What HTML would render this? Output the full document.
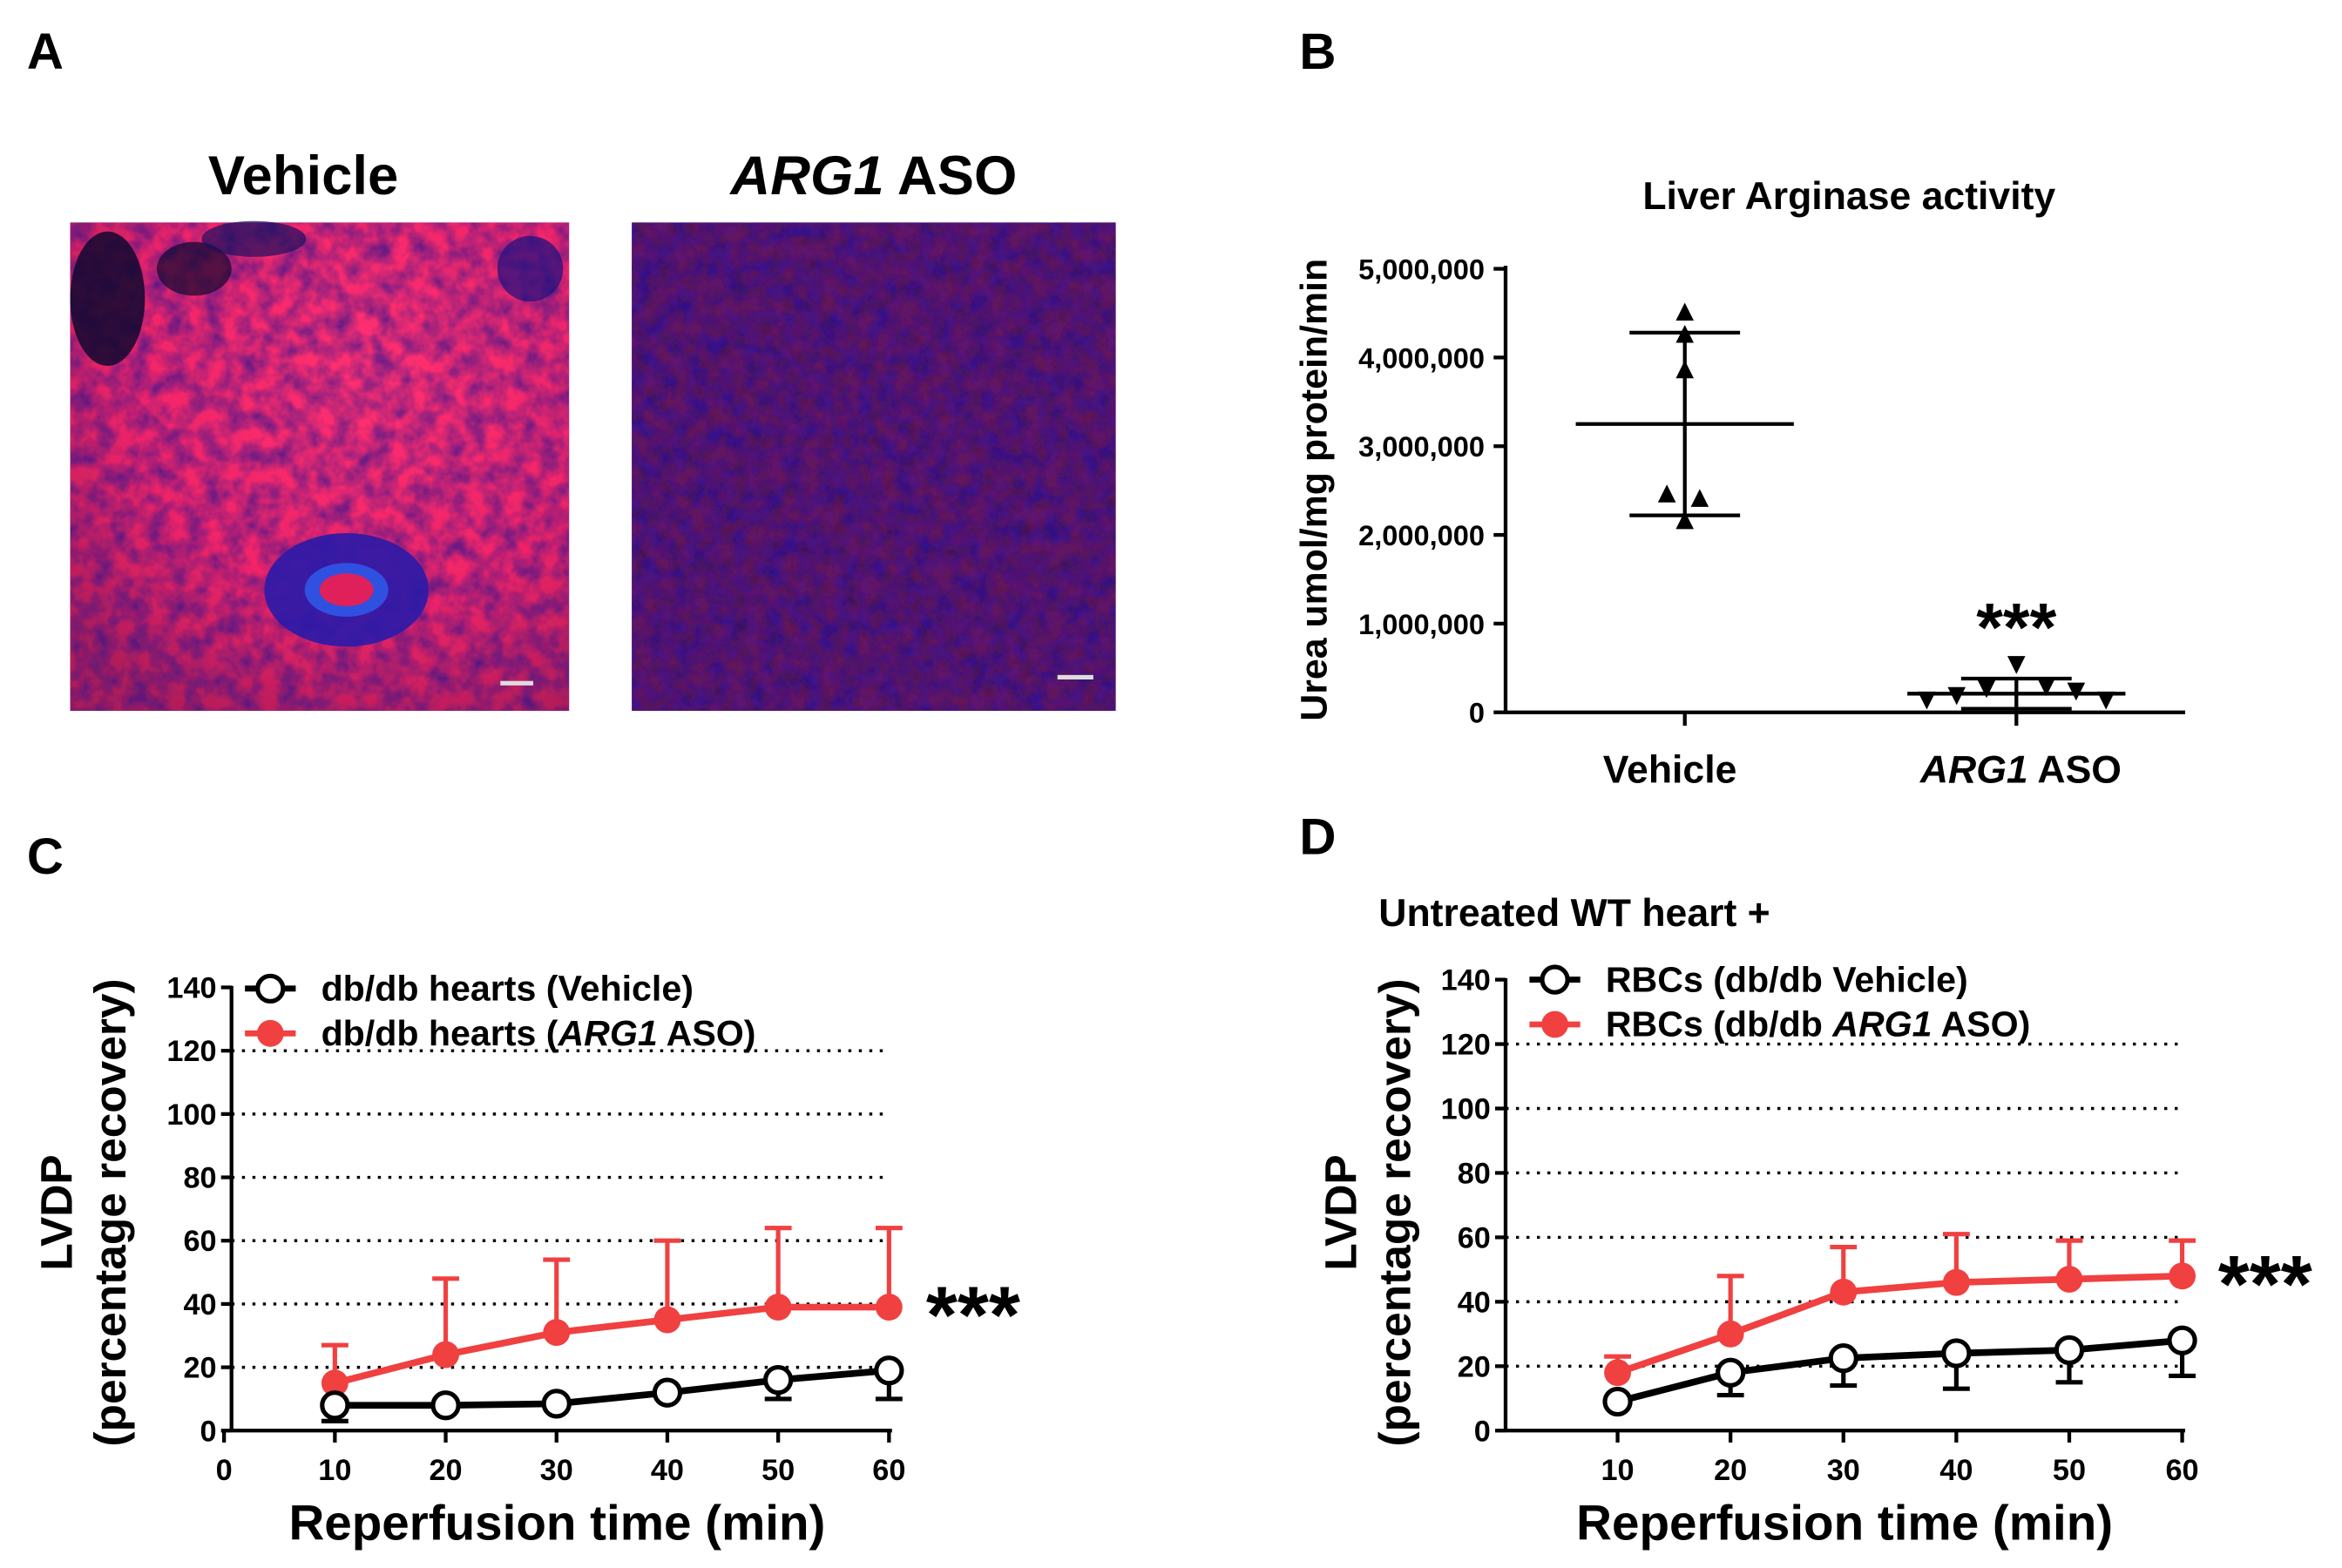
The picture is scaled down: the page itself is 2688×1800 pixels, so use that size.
<!DOCTYPE html>
<html><head><meta charset="utf-8"><style>
html,body{margin:0;padding:0;background:#fff}
svg{display:block;font-family:"Liberation Sans",Arial,sans-serif;font-weight:bold}
</style></head><body>
<svg id="fig" width="2688" height="1800" viewBox="0 0 1568 1050" xmlns="http://www.w3.org/2000/svg">
<defs>
<filter id="noiseR" x="0" y="0" width="100%" height="100%">
<feTurbulence type="fractalNoise" baseFrequency="0.08" numOctaves="3" seed="3" result="n"/>
<feColorMatrix in="n" type="matrix" values="0 0 0 0 0  0 0 0 0 0  0 0 0 0 0  0 0 0 -1.2 1.35" result="a"/>
<feComposite in="SourceGraphic" in2="a" operator="in"/>
</filter>
<filter id="noiseB" x="0" y="0" width="100%" height="100%">
<feTurbulence type="fractalNoise" baseFrequency="0.12" numOctaves="3" seed="9" result="n"/>
<feColorMatrix in="n" type="matrix" values="0 0 0 0 0  0 0 0 0 0  0 0 0 0 0  0 0 0 -2 1.3" result="a"/>
<feComposite in="SourceGraphic" in2="a" operator="in"/>
</filter>
<radialGradient id="vg" cx="0.6" cy="0.3" r="0.8"><stop offset="0" stop-color="#ff3070"/><stop offset="0.6" stop-color="#f02468"/><stop offset="1" stop-color="#b01c58"/></radialGradient>
</defs>
<g font-size="34">
<text x="18" y="46">A</text><text x="870" y="46">B</text><text x="18" y="585">C</text><text x="870" y="572">D</text>
</g>
<!-- Panel A -->
<g>
<text x="203" y="130" font-size="37" text-anchor="middle">Vehicle</text>
<text x="585" y="130" font-size="37" text-anchor="middle"><tspan font-style="italic">ARG1</tspan> ASO</text>
<g>
<rect x="47" y="149" width="334" height="327" fill="#2a1490"/>
<rect x="47" y="149" width="334" height="327" fill="url(#vg)" filter="url(#noiseR)"/>
<ellipse cx="232" cy="395" rx="55" ry="38" fill="#2a1aa8" opacity="0.9"/>
<ellipse cx="232" cy="395" rx="28" ry="18" fill="#3050e0"/>
<ellipse cx="232" cy="395" rx="18" ry="11" fill="#e0205a"/>
<ellipse cx="72" cy="200" rx="25" ry="45" fill="#100830" opacity="0.85"/>
<ellipse cx="130" cy="180" rx="25" ry="18" fill="#100830" opacity="0.7"/>
<ellipse cx="170" cy="160" rx="35" ry="12" fill="#1a1060" opacity="0.7"/>
<ellipse cx="355" cy="180" rx="22" ry="22" fill="#1a1080" opacity="0.7"/>
<rect x="335" y="456" width="22" height="3" fill="#ddd"/>
</g>
<g>
<rect x="423" y="149" width="324" height="327" fill="#1a10a0"/>
<rect x="423" y="149" width="324" height="327" fill="#2a1060" filter="url(#noiseB)"/>
<rect x="423" y="149" width="324" height="327" fill="#a01a40" opacity="0.5" filter="url(#noiseR)"/>
<rect x="708" y="452" width="24" height="3" fill="#ddd"/>
</g>
</g>
<g id="pb"></g>
<g id="pc"></g>
<g id="pd"></g>
</svg>
<script>
// Panel B data
const bCategories = ["Vehicle", "ARG1 ASO"];
const bVehiclePoints = [4500000, 4250000, 3850000, 2450000, 2400000, 2150000];
const bAsoPoints = [550000, 300000, 280000, 250000, 200000, 150000, 150000];
const bMeans = [3250000, 210000];
const bSD = [1030000, 170000];
const bTicks = [0, 1000000, 2000000, 3000000, 4000000, 5000000];
// Panel C data
const cX = [10, 20, 30, 40, 50, 60];
const cVehicle = [8, 8, 8.5, 12, 16, 19];
const cVehicleErr = [5, 0, 0, 0, 6, 9];
const cAso = [15, 24, 31, 35, 39, 39];
const cAsoErr = [12, 24, 23, 25, 25, 25];
const cXTicks = [0, 10, 20, 30, 40, 50, 60];
const yTicks = [0, 20, 40, 60, 80, 100, 120, 140];
// Panel D data
const dX = [10, 20, 30, 40, 50, 60];
const dVehicle = [9, 18, 22.5, 24, 25, 28];
const dVehicleErr = [0, 7, 8.5, 11, 10, 11];
const dAso = [18, 30, 43, 46, 47, 48];
const dAsoErr = [5, 18, 14, 15, 12, 11];
const dXTicks = [10, 20, 30, 40, 50, 60];

const NS = "http://www.w3.org/2000/svg";
function mk(parent, tag, attrs, text) {
  const e = document.createElementNS(NS, tag);
  for (const k in attrs) e.setAttribute(k, attrs[k]);
  if (text !== undefined) e.textContent = text;
  parent.appendChild(e);
  return e;
}
// ---------- Panel B
(function(){
  const g = document.getElementById('pb');
  const y = v => 477 - v / 5000000 * 297;
  const xs = [1128, 1350];
  let t = mk(g,'text',{x:1238,y:140,'font-size':26,'text-anchor':'middle'},'Liver Arginase activity');
   
  t = mk(g,'text',{x:0,y:0,'font-size':25,'text-anchor':'middle',transform:'translate(888,328) rotate(-90)'},'Urea umol/mg protein/min');
   
  let ax = mk(g,'line',{x1:1008,y1:178,x2:1008,y2:478,stroke:'#000','stroke-width':2.5});
   
  ax = mk(g,'line',{x1:1008,y1:477,x2:1463,y2:477,stroke:'#000','stroke-width':2.5});
   
  bTicks.forEach(v=>{
    const l = mk(g,'line',{x1:1000,y1:y(v),x2:1008,y2:y(v),stroke:'#000','stroke-width':2.5});
     
    const tx = mk(g,'text',{x:994,y:y(v)+7,'font-size':19,'text-anchor':'end'},v.toLocaleString('en-US'));
     
  });
  const labX=[1118,1353];
  xs.forEach((x,i)=>{
    const l = mk(g,'line',{x1:x,y1:477,x2:x,y2:486,stroke:'#000','stroke-width':2.5});
     
    const tx = mk(g,'text',{x:labX[i],y:524,'font-size':26,'text-anchor':'middle'});
    if(i===1){ mk(tx,'tspan',{'font-style':'italic'},'ARG1'); mk(tx,'tspan',{},' ASO'); } else tx.textContent=bCategories[i];
     
    const m=bMeans[i], s=bSD[i];
    let e = mk(g,'line',{x1:x-73,y1:y(m),x2:x+73,y2:y(m),stroke:'#000','stroke-width':2.5});
     
    e = mk(g,'line',{x1:x,y1:y(m+s),x2:x,y2:y(m-s),stroke:'#000','stroke-width':2.5});
     
    [m+s,m-s].forEach(v=>{ const c=mk(g,'line',{x1:x-37,y1:y(v),x2:x+37,y2:y(v),stroke:'#000','stroke-width':2.5});
       });
  });
  const offsV=[0,0,0,-12,10,0];
  bVehiclePoints.forEach((v,i)=>{
    const x=xs[0]+offsV[i], yy=y(v);
    const p=mk(g,'polygon',{points:`${x},${yy-7} ${x-6},${yy+5} ${x+6},${yy+5}`,fill:'#000'});
     
  });
  const offsA=[0,20,-20,40,-40,60,-60];
  bAsoPoints.forEach((v,i)=>{
    const x=xs[1]+offsA[i], yy=y(v);
    const p=mk(g,'polygon',{points:`${x-6},${yy-5} ${x+6},${yy-5} ${x},${yy+7}`,fill:'#000'});
     
  });
  t = mk(g,'text',{x:1350,y:436,'font-size':46,'text-anchor':'middle'},'***');
   
})();
// ---------- Line panels
function linePanel(id, o){
  const g=document.getElementById(id);
  const X=v=>o.x0+(v-o.xMin)*o.xs, Y=v=>o.y0-v*o.ys;
  yTicks.forEach(v=>{
    if(v>0 && v<140){ const l=mk(g,'line',{x1:o.axX,y1:Y(v),x2:o.xEnd,y2:Y(v),stroke:'#000','stroke-width':2,'stroke-dasharray':'2,5'});
       }
    const t=mk(g,'line',{x1:o.axX-7,y1:Y(v),x2:o.axX,y2:Y(v),stroke:'#000','stroke-width':2.5});
     
    const tx=mk(g,'text',{x:o.axX-10,y:Y(v)+7,'font-size':20,'text-anchor':'end'},v);
     
  });
  let a=mk(g,'line',{x1:o.axX,y1:Y(140)-1,x2:o.axX,y2:o.y0+1,stroke:'#000','stroke-width':2.5});
   
  a=mk(g,'line',{x1:o.axX,y1:o.y0,x2:X(60)+2,y2:o.y0,stroke:'#000','stroke-width':2.5});
   
  o.xTicks.forEach(v=>{
    const t=mk(g,'line',{x1:X(v),y1:o.y0,x2:X(v),y2:o.y0+8,stroke:'#000','stroke-width':2.5});
     
    const tx=mk(g,'text',{x:X(v),y:o.y0+33,'font-size':20,'text-anchor':'middle'},v);
     
  });
  let t=mk(g,'text',{x:o.xTitleX,y:o.y0+73,'font-size':33,'text-anchor':'middle'},'Reperfusion time (min)');
   
  t=mk(g,'text',{x:0,y:0,'font-size':30,'text-anchor':'middle',transform:`translate(${o.yTitleX},${o.y0-146}) rotate(-90)`});
  mk(t,'tspan',{x:0,dy:0},'LVDP'); mk(t,'tspan',{x:0,dy:36},'(percentage recovery)');
   
  o.xv.forEach((v,i)=>{
    const e1=o.aso[i]+o.asoErr[i];
    let l=mk(g,'line',{x1:X(v),y1:Y(o.aso[i]),x2:X(v),y2:Y(e1),stroke:'#f04040','stroke-width':3});
     
    l=mk(g,'line',{x1:X(v)-9,y1:Y(e1),x2:X(v)+9,y2:Y(e1),stroke:'#f04040','stroke-width':3});
     
    if(o.vehErr[i]>0){const e2=o.veh[i]-o.vehErr[i];
      l=mk(g,'line',{x1:X(v),y1:Y(o.veh[i]),x2:X(v),y2:Y(e2),stroke:'#000','stroke-width':3});
       
      l=mk(g,'line',{x1:X(v)-9,y1:Y(e2),x2:X(v)+9,y2:Y(e2),stroke:'#000','stroke-width':3});
       }
  });
  let p=mk(g,'polyline',{points:o.xv.map((v,i)=>X(v)+','+Y(o.aso[i])).join(' '),fill:'none',stroke:'#f04040','stroke-width':4.5});
   
  p=mk(g,'polyline',{points:o.xv.map((v,i)=>X(v)+','+Y(o.veh[i])).join(' '),fill:'none',stroke:'#000','stroke-width':4.5});
   
  o.xv.forEach((v,i)=>{
    let c=mk(g,'circle',{cx:X(v),cy:Y(o.aso[i]),r:9,fill:'#f04040'});
     
    c=mk(g,'circle',{cx:X(v),cy:Y(o.veh[i]),r:8.5,fill:'#fff',stroke:'#000','stroke-width':3});
     
  });
  const lx=o.legX, ly=o.legY;
  let l=mk(g,'line',{x1:lx-17,y1:ly,x2:lx+17,y2:ly,stroke:'#000','stroke-width':4});
   
  l=mk(g,'circle',{cx:lx,cy:ly,r:8.5,fill:'#fff',stroke:'#000','stroke-width':3});
   
  t=mk(g,'text',{x:lx+34,y:ly+8,'font-size':24},o.leg1);
   
  l=mk(g,'line',{x1:lx-17,y1:ly+30,x2:lx+17,y2:ly+30,stroke:'#f04040','stroke-width':4});
   
  l=mk(g,'circle',{cx:lx,cy:ly+30,r:9,fill:'#f04040'});
   
  t=mk(g,'text',{x:lx+34,y:ly+38,'font-size':24});
  mk(t,'tspan',{},o.leg2a); mk(t,'tspan',{'font-style':'italic'},'ARG1'); mk(t,'tspan',{},' ASO)');
   
  t=mk(g,'text',{x:o.starX,y:Y(o.aso[5])+24,'font-size':54},'***');
   
}
linePanel('pc',{x0:150,xMin:0,xs:7.42,y0:958,ys:2.12,axX:155,xEnd:595,xTicks:cXTicks,xv:cX,
  veh:cVehicle,vehErr:cVehicleErr,aso:cAso,asoErr:cAsoErr,xTitleX:373,yTitleX:48,
  legX:181,legY:662,leg1:'db/db hearts (Vehicle)',leg2a:'db/db hearts (',starX:620});
linePanel('pd',{x0:1083,xMin:10,xs:7.56,y0:958,ys:2.157,axX:1008,xEnd:1462,xTicks:dXTicks,xv:dX,
  veh:dVehicle,vehErr:dVehicleErr,aso:dAso,asoErr:dAsoErr,xTitleX:1235,yTitleX:908,
  legX:1041,legY:656,leg1:'RBCs (db/db Vehicle)',leg2a:'RBCs (db/db ',starX:1485});
(function(){const t=mk(document.getElementById('pd'),'text',{x:923,y:620,'font-size':26},'Untreated WT heart +');
 })();
</script>
</body></html>
